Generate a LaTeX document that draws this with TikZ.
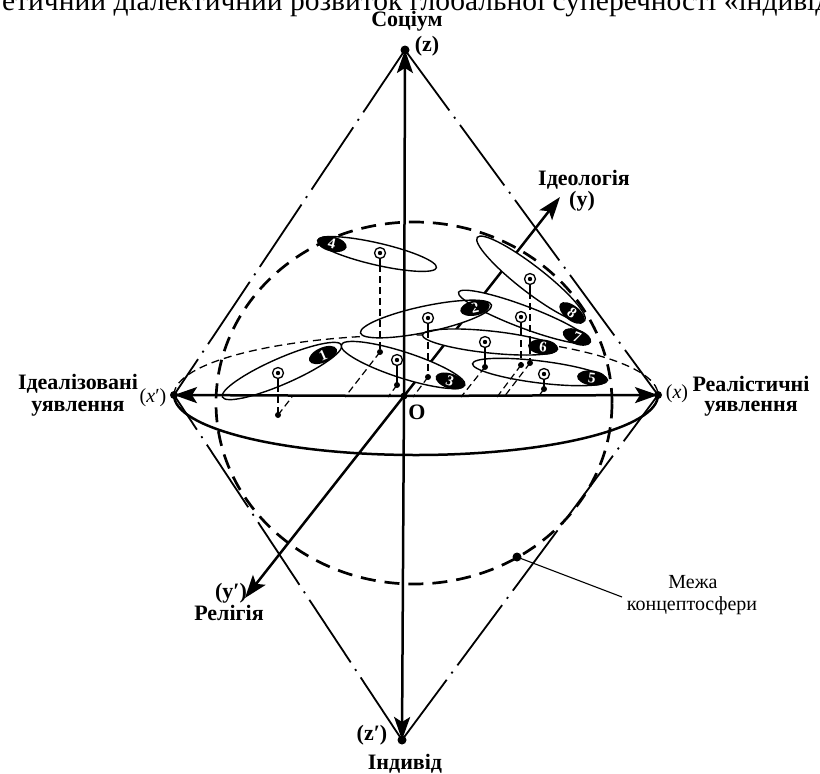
\documentclass[tikz,border=0pt]{standalone}
\usepackage{fontspec}
\setmainfont{Liberation Serif}
\usetikzlibrary{arrows.meta,calc,shapes.geometric}
\begin{document}
\def\blobdata{
  1/282/371/65/13/23.6/323/355/278/373/385/415/292,
  2/426/319/67/13/12/475/308/428/318/331/377/413,
  3/403/365/65/13/-18/450/381/397/360/385/385/388,
  4/377/254/61/11/-13/332/244/380/253/265/352/345,
  5/540/372/68/11/-7/592/378/544/374/389/389/538,
  6/490/342/68/11/-6/543/347/485/342/367/367/461,
  7/524/317/70/11/-20.7/577/337/521/317/329/365/497,
  8/531/279/68/13/-37.8/572/313/530/279/292/363/504}
\begin{tikzpicture}[x=1pt,y=-1pt,
  axis/.style={line width=2.5pt,-{Stealth[length=23pt,width=16pt,inset=5pt]}},
  dashdotline/.style={line width=1.8pt, dash pattern=on 75pt off 8pt on 2pt off 8pt},
  bigdash/.style={line width=2.7pt, dash pattern=on 15pt off 9pt},
  thindash/.style={line width=1.3pt, dash pattern=on 8pt off 5pt},
  proj/.style={line width=1.2pt, dash pattern=on 7pt off 4pt},
  blob/.style={line width=1.4pt},
  stem/.style={line width=1.2pt},
  lbl/.style={font=\bfseries\fontsize{22}{24}\selectfont, inner sep=0pt},
  rlbl/.style={font=\fontsize{20}{22}\selectfont, inner sep=0pt},
  numoval/.style={ellipse, fill=black, minimum width=30pt, minimum height=15pt, inner sep=0pt,
     text=white, font=\bfseries\fontsize{15}{15}\selectfont}
]
\useasboundingbox (0,0) rectangle (820,774);

% title (cut off at the top)
\node[anchor=base west, font=\fontsize{29.5}{31}\selectfont, inner sep=0pt] (title) at (2,10)
  {етичний діалектичний розвиток глобальної суперечності «індивід};

% main points
\coordinate (O) at (404,396);
\coordinate (Zt) at (405,50);
\coordinate (Zb) at (402,740);
\coordinate (Xl) at (174,395);
\coordinate (Xr) at (658,395);
\coordinate (Yt) at (560,197);
\coordinate (Yb) at (245,598);
\coordinate (BC) at (414,403);
\coordinate (M) at (517,557);
\coordinate (Ml) at (622,597);

% diamond (dash-dot)
\draw[dashdotline] (Zt) -- (Xl);
\draw[dashdotline] (Zt) -- (Xr);
\draw[dashdotline] (Zb) -- (Xl);
\draw[dashdotline] (Zb) -- (Xr);

% equator
\draw[line width=2.5pt] (Xl) arc[start angle=180, end angle=360, x radius=242pt, y radius=60pt];
\draw[thindash] (Xl) arc[start angle=180, end angle=0, x radius=242pt, y radius=60pt];

% boundary of the conceptosphere
\draw[bigdash] (BC) ellipse[x radius=198pt, y radius=181pt];
\fill (M) circle (4.5pt);
\draw[line width=1.1pt] (M) -- (Ml);
\node[rlbl] (mezha) at (693,582) {Межа};
\node[rlbl] (konc) at (692,606) {концептосфери};

% axis y lies behind the ellipses
\draw[axis] (O) -- (Yt);
\draw[axis] (O) -- (Yb);

% white fills of the ellipses
\foreach \n/\cx/\cy/\a/\b/\ang/\lx/\ly/\bx/\by/\sy/\dy/\ix in \blobdata {
  \fill[white, rotate around={\ang:(\cx,\cy)}] (\cx,\cy) ellipse[x radius=\a pt, y radius=\b pt];
}
% outlines, markers and projections
\foreach \n/\cx/\cy/\a/\b/\ang/\lx/\ly/\bx/\by/\sy/\dy/\ix in \blobdata {
  \draw[blob, rotate around={\ang:(\cx,\cy)}] (\cx,\cy) ellipse[x radius=\a pt, y radius=\b pt];
  \coordinate (b\n) at (\bx,\by);
  \coordinate (s\n) at (\bx,\sy);
  \coordinate (d\n) at (\bx,\dy);
  \coordinate (i\n) at (\ix,397);
  \draw[stem] ($(b\n)+(0,5.5)$) -- (s\n);
  \draw[proj] (s\n) -- (d\n);
  \draw[proj] (d\n) -- (i\n);
  \fill (d\n) circle (3pt);
  \draw[line width=1.3pt, fill=white] (b\n) circle (5.5pt);
  \fill (b\n) circle (2.2pt);
  \node[numoval, rotate=\ang] (lab\n) at (\lx,\ly) {\n};
}

% axes x and z in front
\draw[axis] (O) -- (Zt);
\draw[axis] (O) -- (Zb);
\draw[axis] (O) -- (Xl);
\draw[axis] (O) -- (Xr);
\fill (Zt) circle (4.5pt);
\fill (Zb) circle (4.5pt);
\fill (Xl) circle (4pt);
\fill (Xr) circle (4pt);
\fill (O) circle (3.5pt);

% labels
\node[lbl] (soc) at (407,21) {Соціум};
\node[lbl] (zl) at (427,46) {(z)};
\node[lbl] (zbl) at (372,735) {(z′)};
\node[lbl] (ind) at (405,764) {Індивід};
\node[lbl] (ideo) at (584,180) {Ідеологія};
\node[lbl] (yl) at (582,201) {(y)};
\node[lbl] (ybl) at (231,593) {(y′)};
\node[lbl] (rel) at (229,613) {Релігія};
\node[lbl] (idl1) at (78,384) {Ідеалізовані};
\node[lbl] (idl2) at (78,409) {уявлення};
\node[rlbl] (xll) at (153,398) {(\textit{x}′)};
\node[rlbl] (xrl) at (677,394) {(\textit{x})};
\node[lbl] (real1) at (751,384) {Реалістичні};
\node[lbl] (real2) at (751,409) {уявлення};
\node[lbl] (Ol) at (417,412) {O};
\end{tikzpicture}
\end{document}
